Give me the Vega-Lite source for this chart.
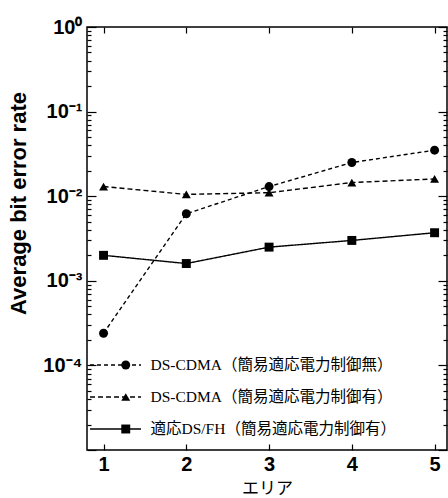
{
  "$schema": "https://vega.github.io/schema/vega-lite/v6.json",
  "width": 360,
  "height": 423,
  "autosize": "none",
  "padding": {"left": 87, "top": 27, "right": 1, "bottom": 48},
  "background": "white",
  "config": {"view": {"stroke": "black", "strokeWidth": 1.5}, "font": "Liberation Sans"},
  "data": {"values": [
    {"area": 1, "ber": 0.00024, "series": "DS-CDMA（簡易適応電力制御無）", "line": "a"},
    {"area": 2, "ber": 0.0062, "series": "DS-CDMA（簡易適応電力制御無）", "line": "a"},
    {"area": 3, "ber": 0.013, "series": "DS-CDMA（簡易適応電力制御無）", "line": "a"},
    {"area": 4, "ber": 0.025, "series": "DS-CDMA（簡易適応電力制御無）", "line": "a"},
    {"area": 5, "ber": 0.035, "series": "DS-CDMA（簡易適応電力制御無）", "line": "a"},
    {"area": 1, "ber": 0.013, "series": "DS-CDMA（簡易適応電力制御有）", "line": "b"},
    {"area": 2, "ber": 0.0105, "series": "DS-CDMA（簡易適応電力制御有）", "line": "b"},
    {"area": 3, "ber": 0.011, "series": "DS-CDMA（簡易適応電力制御有）", "line": "b"},
    {"area": 4, "ber": 0.0145, "series": "DS-CDMA（簡易適応電力制御有）", "line": "b"},
    {"area": 5, "ber": 0.016, "series": "DS-CDMA（簡易適応電力制御有）", "line": "b"},
    {"area": 1, "ber": 0.002, "series": "適応DS/FH（簡易適応電力制御有）", "line": "c"},
    {"area": 2, "ber": 0.0016, "series": "適応DS/FH（簡易適応電力制御有）", "line": "c"},
    {"area": 3, "ber": 0.0025, "series": "適応DS/FH（簡易適応電力制御有）", "line": "c"},
    {"area": 4, "ber": 0.003, "series": "適応DS/FH（簡易適応電力制御有）", "line": "c"},
    {"area": 5, "ber": 0.0037, "series": "適応DS/FH（簡易適応電力制御有）", "line": "c"}
  ]},
  "layer": [
    {
      "mark": {"type": "line", "color": "black", "strokeWidth": 1.4},
      "encoding": {
        "x": {"field": "area", "type": "quantitative",
          "scale": {"domain": [0.8, 5.15], "nice": false, "zero": false},
          "axis": {"orient": "bottom", "values": [1, 2, 3, 4, 5], "domain": false, "grid": false,
            "tickSize": -6, "tickColor": "black", "tickWidth": 1.2,
            "labelFontSize": 20, "labelFontWeight": "bold", "labelColor": "black", "labelPadding": 10,
            "title": "エリア", "titleFont": "Noto Sans CJK JP", "titleFontSize": 17, "titleFontWeight": "normal", "titleColor": "black",
            "titleY": 38, "titleBaseline": "middle"}},
        "y": {"field": "ber", "type": "quantitative",
          "scale": {"type": "log", "domain": [0.00001, 1], "nice": false},
          "axis": {"orient": "left", "domain": false, "grid": false,
            "values": [0.00001,0.00002,0.00003,0.00004,0.00005,0.00006,0.00007,0.00008,0.00009,0.0001,0.0002,0.0003,0.0004,0.0005,0.0006,0.0007,0.0008,0.0009,0.001,0.002,0.003,0.004,0.005,0.006,0.007,0.008,0.009,0.01,0.02,0.03,0.04,0.05,0.06,0.07,0.08,0.09,0.1,0.2,0.3,0.4,0.5,0.6,0.7,0.8,0.9,1],
            "tickSize": {"condition": {"test": "abs(log(datum.value)/LN10 - round(log(datum.value)/LN10)) < 0.001", "value": -9}, "value": -4},
            "tickColor": "black", "tickWidth": 1.2,
            "labelExpr": "abs(log(datum.value)/LN10 - round(log(datum.value)/LN10)) < 0.001 && datum.value > 0.00002 ? '10' + (round(log(datum.value)/LN10) < 0 ? '⁻' : '') + ['⁰','¹','²','³','⁴','⁵'][abs(round(log(datum.value)/LN10))] : ''",
            "labelFontSize": 20, "labelFontWeight": "bold", "labelColor": "black", "labelPadding": 14, "labelBaseline": "middle",
            "title": "Average bit error rate", "titleFontSize": 22, "titleFontWeight": "bold", "titleColor": "black",
            "titleAngle": -90, "titleX": -69, "titleY": 176, "titleAlign": "center", "titleBaseline": "middle"}},
        "strokeDash": {"field": "line", "type": "nominal",
          "scale": {"domain": ["a", "b", "c"], "range": [[4, 3], [5, 3], [1, 0]]},
          "legend": {"orient": "none", "legendX": 2, "legendY": 322, "title": null, "symbolType": "stroke", "symbolSize": 2600,
            "symbolStrokeColor": "black", "symbolStrokeWidth": 1.4, "labelExpr": "''", "clipHeight": 32, "rowPadding": 0, "padding": 0}}
      }
    },
    {
      "mark": {"type": "point", "filled": true, "color": "black", "opacity": 1, "size": 80},
      "encoding": {
        "x": {"field": "area", "type": "quantitative",
          "axis": {"orient": "top", "values": [1, 2, 3, 4, 5], "domain": false, "grid": false, "labels": false, "title": null,
            "tickSize": -6, "tickColor": "black", "tickWidth": 1.2}},
        "y": {"field": "ber", "type": "quantitative",
          "axis": {"orient": "right", "domain": false, "grid": false, "labels": false, "title": null,
            "values": [0.00001,0.00002,0.00003,0.00004,0.00005,0.00006,0.00007,0.00008,0.00009,0.0001,0.0002,0.0003,0.0004,0.0005,0.0006,0.0007,0.0008,0.0009,0.001,0.002,0.003,0.004,0.005,0.006,0.007,0.008,0.009,0.01,0.02,0.03,0.04,0.05,0.06,0.07,0.08,0.09,0.1,0.2,0.3,0.4,0.5,0.6,0.7,0.8,0.9,1],
            "tickSize": {"condition": {"test": "abs(log(datum.value)/LN10 - round(log(datum.value)/LN10)) < 0.001", "value": -9}, "value": -4},
            "tickColor": "black", "tickWidth": 1.2}},
        "shape": {"field": "series", "type": "nominal",
          "scale": {"domain": ["DS-CDMA（簡易適応電力制御無）", "DS-CDMA（簡易適応電力制御有）", "適応DS/FH（簡易適応電力制御有）"], "range": ["circle", "triangle-up", "square"]},
          "legend": {"orient": "none", "legendX": 31, "legendY": 322, "title": null, "symbolSize": 80,
            "symbolFillColor": "black", "symbolStrokeColor": "black", "labelFont": "Liberation Serif, Noto Sans CJK JP",
            "labelFontSize": 15.5, "labelColor": "black", "labelOffset": 17, "labelLimit": 400, "clipHeight": 32, "rowPadding": 0, "padding": 0}}
      }
    }
  ],
  "resolve": {"axis": {"x": "independent", "y": "independent"}}
}
